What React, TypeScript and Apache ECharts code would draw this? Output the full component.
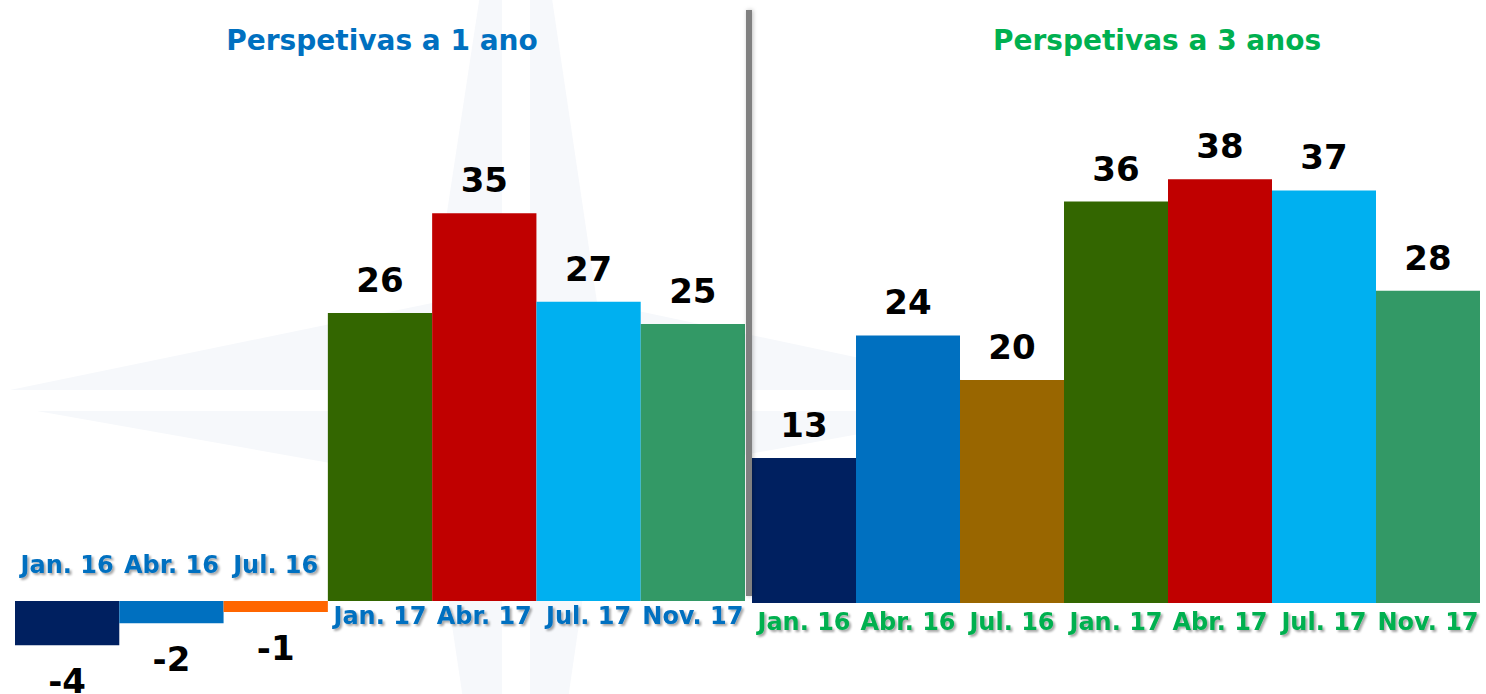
import React, { useEffect, useRef } from 'react';
import * as echarts from 'echarts';

const categoriesShort = ['Jan. 16', 'Abr. 16', 'Jul. 16', 'Jan. 17', 'Abr. 17', 'Jul. 17', 'Nov. 17'];
const valuesShort = [-4, -2, -1, 26, 35, 27, 25];
const colorsShort = ['#002060', '#0070C0', '#FF6600', '#336600', '#C00000', '#00B0F0', '#339966'];

const categoriesLong = ['Jan. 16', 'Abr. 16', 'Jul. 16', 'Jan. 17', 'Abr. 17', 'Jul. 17', 'Nov. 17'];
const valuesLong = [13, 24, 20, 36, 38, 37, 28];
const colorsLong = ['#002060', '#0070C0', '#996600', '#336600', '#C00000', '#00B0F0', '#339966'];

const titleShort = 'Perspetivas a 1 ano';
const titleLong = 'Perspetivas a 3 anos';

const FONT = '"DejaVu Sans", Verdana, sans-serif';
const BLUE = '#0070C0';
const GREEN = '#00B050';
const WM = '#F6F8FB';

function makeData(values: number[], colors: string[]) {
  return values.map((v, i) => ({
    value: v,
    itemStyle: { color: colors[i] },
    label: { position: v >= 0 ? 'top' : 'bottom', distance: v >= 0 ? 16 : 19 },
  }));
}

const catLabelStyle = (color: string) => ({
  color,
  fontFamily: FONT,
  fontWeight: 'bold' as const,
  fontSize: 24,
  textShadowColor: 'rgba(0,0,0,0.35)',
  textShadowBlur: 2,
  textShadowOffsetX: 2,
  textShadowOffsetY: 2,
  interval: 0,
});

const hiddenY = (grid: number) => ({
  type: 'value', gridIndex: grid, min: 0, max: 50,
  axisLine: { show: false }, axisTick: { show: false }, axisLabel: { show: false }, splitLine: { show: false },
});

export default function App() {
  const ref = useRef<HTMLDivElement>(null);
  useEffect(() => {
    if (!ref.current) return;
    const chart = echarts.init(ref.current, null, { renderer: 'svg' });
    const wmPolys = [
      [[10, 390], [505, 390], [505, 288]],
      [[37, 411], [505, 411], [505, 494]],
      [[1010, 390], [530, 390], [530, 288]],
      [[985, 411], [530, 411], [530, 494]],
      [[502, -150], [502, 390], [420, 390]],
      [[530, -150], [530, 390], [610, 390]],
      [[502, 960], [502, 411], [420, 411]],
      [[530, 960], [530, 411], [610, 411]],
    ];
    const option: any = {
      animation: false,
      backgroundColor: '#ffffff',
      grid: [
        { left: 15, width: 730, top: 47, height: 554 },
        { left: 752, width: 728, top: 45.5, height: 557.5 },
      ],
      xAxis: [
        {
          type: 'category', gridIndex: 0, position: 'bottom', data: categoriesShort,
          axisLine: { show: false }, axisTick: { show: false },
          axisLabel: {
            ...catLabelStyle(BLUE), margin: 3,
            formatter: (v: string, i: number) => (valuesShort[i] >= 0 ? v : ''),
          },
        },
        {
          type: 'category', gridIndex: 0, position: 'bottom', data: categoriesShort,
          axisLine: { show: false }, axisTick: { show: false },
          axisLabel: {
            ...catLabelStyle(BLUE), inside: true, margin: 24,
            formatter: (v: string, i: number) => (valuesShort[i] < 0 ? v : ''),
          },
        },
        {
          type: 'category', gridIndex: 1, position: 'bottom', data: categoriesLong,
          axisLine: { show: false }, axisTick: { show: false },
          axisLabel: { ...catLabelStyle(GREEN), margin: 7 },
        },
      ],
      yAxis: [hiddenY(0), hiddenY(1)],
      series: [
        {
          type: 'bar', xAxisIndex: 0, yAxisIndex: 0, barWidth: '100%', clip: false,
          data: makeData(valuesShort, colorsShort),
          label: { show: true, color: '#000', fontFamily: FONT, fontWeight: 'bold', fontSize: 34 },
        },
        {
          type: 'bar', xAxisIndex: 2, yAxisIndex: 1, barWidth: '100%', clip: false,
          data: makeData(valuesLong, colorsLong),
          label: { show: true, color: '#000', fontFamily: FONT, fontWeight: 'bold', fontSize: 34 },
        },
      ],
      graphic: [
        ...wmPolys.map((pts) => ({
          type: 'polygon', z: -10, silent: true,
          shape: { points: pts },
          style: { fill: WM },
        })),
        {
          type: 'rect', z: 100, silent: true,
          shape: { x: 746, y: 10, width: 6, height: 586 },
          style: { fill: '#808080', shadowBlur: 4, shadowColor: 'rgba(0,0,0,0.25)', shadowOffsetX: 1 },
        },
        {
          type: 'text', z: 100, x: 382, y: 40,
          style: { text: titleShort, fill: BLUE, font: `bold 28px ${FONT}`, textAlign: 'center', textVerticalAlign: 'middle' },
        },
        {
          type: 'text', z: 100, x: 1157, y: 40,
          style: { text: titleLong, fill: GREEN, font: `bold 28px ${FONT}`, textAlign: 'center', textVerticalAlign: 'middle' },
        },
      ],
    };
    chart.setOption(option);
    return () => chart.dispose();
  }, []);
  return <div ref={ref} style={{ position: 'fixed', left: 0, top: 0, width: 1486, height: 694 }} />;
}
